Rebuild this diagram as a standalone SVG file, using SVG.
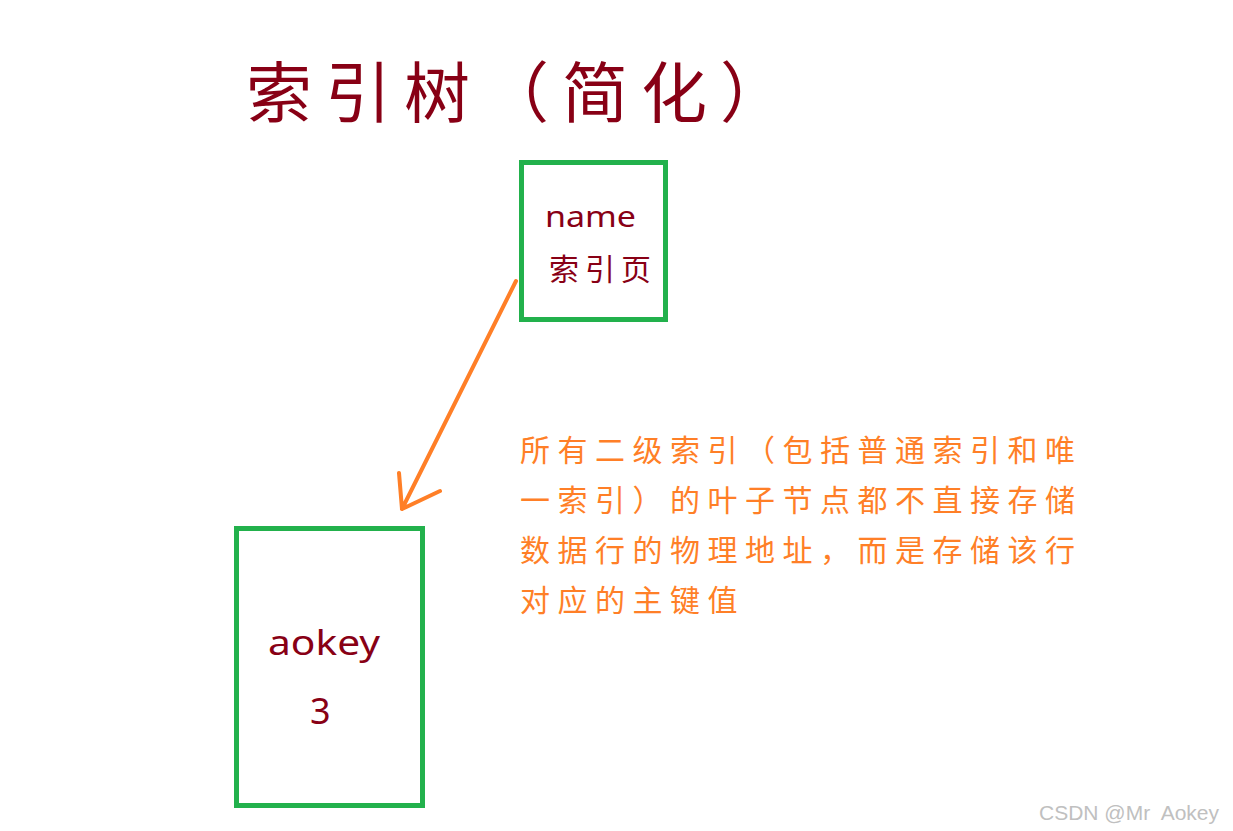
<svg xmlns="http://www.w3.org/2000/svg" width="1233" height="831" viewBox="0 0 1233 831">
<style>
.box{fill:none;stroke:#22b14c;stroke-width:5}
.red{fill:#880015;font-family:"Noto Sans CJK SC","Noto Sans",sans-serif}
.lat{fill:#880015;font-family:"Noto Sans","Liberation Sans",sans-serif}
.note{fill:#ff7f27;font-family:"Noto Sans CJK SC",sans-serif;font-size:30px;letter-spacing:7.5px}
.conn{fill:none;stroke:#ff7f27;stroke-width:4;stroke-linecap:round;stroke-linejoin:round}
</style>
<rect width="1233" height="831" fill="#fff"/>
<text class="red" x="246" y="117" font-size="66" letter-spacing="13">索引树（简化）</text>
<g id="node-name">
<rect class="box" x="521.5" y="162.5" width="144" height="157"/>
<text class="lat" x="545" y="227" font-size="29" textLength="91" lengthAdjust="spacingAndGlyphs">name</text>
<text class="red" x="549" y="280" font-size="30" letter-spacing="6">索引页</text>
</g>
<g id="node-aokey">
<rect class="box" x="236.5" y="528.5" width="186" height="277"/>
<text class="lat" x="268" y="655" font-size="35" textLength="112" lengthAdjust="spacingAndGlyphs">aokey</text>
<text class="lat" x="310" y="724" font-size="36">3</text>
</g>
<g id="connectors">
<path class="conn" d="M516,281 L402,509 M399,473 L402,509 L440,491"/>
</g>
<g id="note">
<text class="note" x="520" y="461">所有二级索引（包括普通索引和唯</text>
<text class="note" x="520" y="511">一索引）的叶子节点都不直接存储</text>
<text class="note" x="520" y="561">数据行的物理地址，而是存储该行</text>
<text class="note" x="520" y="611">对应的主键值</text>
</g>
<text x="1039" y="820" font-family="Liberation Sans, sans-serif" font-size="21" fill="#c0c0c0" xml:space="preserve" style="white-space:pre">CSDN @Mr  Aokey</text>
</svg>
